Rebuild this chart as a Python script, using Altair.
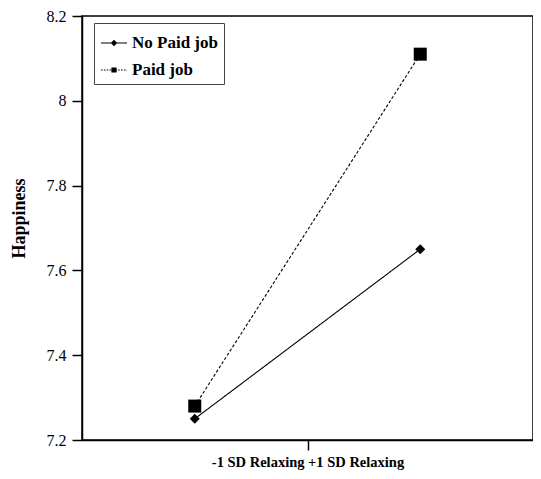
import altair as alt
import pandas as pd

groups = ["No Paid job", "Paid job"]
x_pos = [1, 3]  # -1 SD Relaxing, +1 SD Relaxing
no_paid = [7.25, 7.65]
paid = [7.28, 8.11]
y_ticks = [7.2, 7.4, 7.6, 7.8, 8.0, 8.2]

rows = []
for g, vals in zip(groups, [no_paid, paid]):
    for x, v in zip(x_pos, vals):
        rows.append({"group": g, "x": x, "happiness": v})
df = pd.DataFrame(rows)

SERIF = "Liberation Serif"

x_enc = alt.X(
    "x:Q",
    scale=alt.Scale(domain=[0, 4], nice=False, zero=False),
    axis=alt.Axis(
        values=[2], labels=False, tickSize=10, grid=False,
        title="-1 SD Relaxing +1 SD Relaxing", titlePadding=5,
        titleFont=SERIF, titleFontSize=14.5, titleFontWeight="bold", titleColor="black",
    ),
)
y_enc = alt.Y(
    "happiness:Q",
    scale=alt.Scale(domain=[7.2, 8.2], nice=False, zero=False),
    axis=alt.Axis(
        values=y_ticks, format="~g", tickSize=10, grid=False, labelPadding=6,
        labelFont=SERIF, labelFontSize=16, labelColor="black",
        title="Happiness", titleFont=SERIF, titleFontSize=18, titleFontWeight="bold",
        titleColor="black", titleX=-54, titleY=202, titleBaseline="bottom", titleAngle=-90,
    ),
)

dash_scale = alt.Scale(domain=groups, range=[[1, 0], [3, 2]])

lines = alt.Chart(df).mark_line(color="black", strokeWidth=1.1).encode(
    x=x_enc, y=y_enc,
    strokeDash=alt.StrokeDash("group:N", scale=dash_scale, legend=None),
    detail="group:N",
)

points = alt.Chart(df).mark_point(filled=True, color="black", opacity=1).encode(
    x=x_enc, y=y_enc,
    shape=alt.Shape("group:N", scale=alt.Scale(domain=groups, range=["diamond", "square"]), legend=None),
    size=alt.Size("group:N", scale=alt.Scale(domain=groups, range=[100, 169]), legend=None),
)

# legend glyphs: a thin bar (line sample) with the marker in the middle
t = 0.04
solid_bar = f"M-1,{-t}H1V{t}H-1Z"
dotted_bar = ""
pos = -1.0
while pos < 1.0:
    end = min(pos + 0.12, 1.0)
    dotted_bar += f"M{pos:.3f},{-t}H{end:.3f}V{t}H{pos:.3f}Z"
    pos += 0.22
legend_paths = [
    solid_bar + "M-0.25,0L0,-0.25L0.25,0L0,0.25Z",
    dotted_bar + "M-0.2,-0.2H0.2V0.2H-0.2Z",
]

legend_layer = alt.Chart(df).mark_point(
    filled=True, color="black", opacity=0, size=676
).encode(
    x=x_enc, y=y_enc,
    shape=alt.Shape(
        "group:N",
        scale=alt.Scale(domain=groups, range=legend_paths),
        legend=alt.Legend(
            title=None, orient="none", legendX=12, legendY=7,
            strokeColor="#444", fillColor="white", padding=6,
            labelFont=SERIF, labelFontSize=17, labelFontWeight="bold", labelColor="black",
            symbolSize=676, symbolOpacity=1, symbolFillColor="black",
            rowPadding=5, labelOffset=4,
        ),
    ),
)

chart = (
    alt.layer(lines, points, legend_layer)
    .resolve_scale(shape="independent", size="independent", strokeDash="independent")
    .resolve_legend(shape="independent")
    .properties(
        width=451, height=424,
        autosize=alt.AutoSizeParams(type="none"),
        padding={"left": 74, "top": 8, "right": 0, "bottom": 31},
        background="white",
    )
    .configure_view(stroke="black", strokeWidth=1.5)
    .configure_axis(domainColor="black", domainWidth=1.5, tickColor="black", tickWidth=1.5)
)

chart.save("out.html", embed_options={"renderer": "svg", "actions": False})
